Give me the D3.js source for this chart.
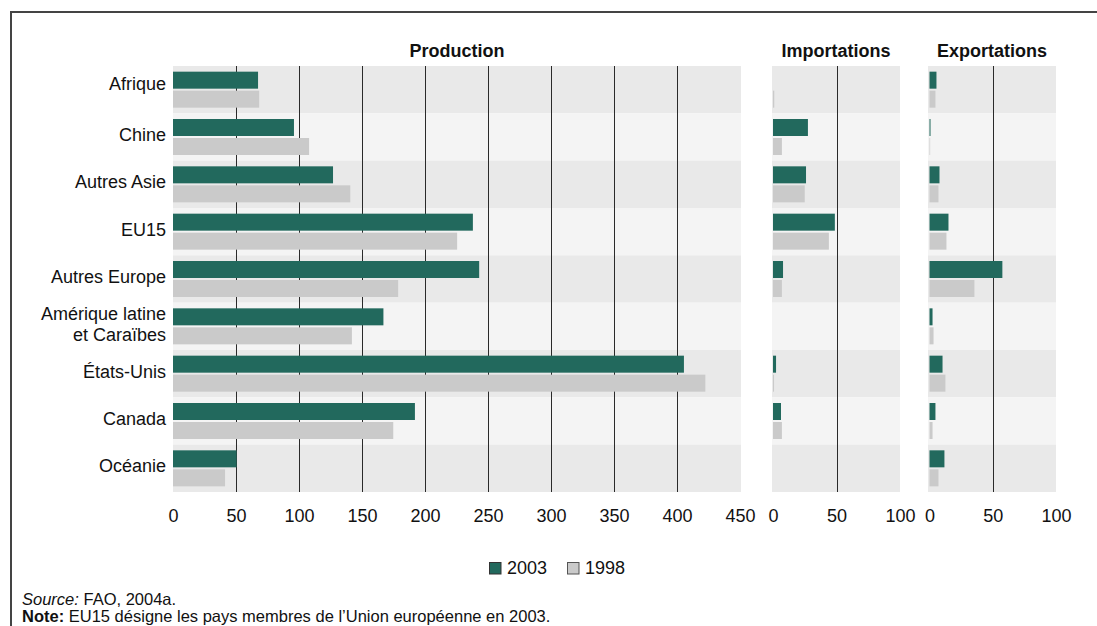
<!DOCTYPE html>
<html>
<head>
<meta charset="utf-8">
<script src="https://cdn.jsdelivr.net/npm/d3@7"></script>
<style>
  html, body { margin: 0; padding: 0; background: #fff; }
  svg { display: block; font-family: "Liberation Sans", Arial, Helvetica, sans-serif; }
</style>
</head>
<body>
<svg id="chart" width="1097" height="626"></svg>
<script>
// ---- Data ----
const categories = ["Afrique", "Chine", "Autres Asie", "EU15", "Autres Europe",
  "Amérique latine\net Caraïbes", "États-Unis", "Canada", "Océanie"];
const seriesNames = ["2003", "1998"];
const prod2003 = [67.5, 96, 127, 238, 243, 167, 405.5, 192, 50.5];
const prod1998 = [68.4, 108, 140.7, 225.5, 178.7, 142, 422.5, 174.8, 41.3];
const imp2003 = [0, 27.5, 26, 48.7, 7.9, 0, 2.4, 6.3, 0];
const imp1998 = [1, 7, 25, 44, 7, 0, 0.8, 7, 0];
const exp2003 = [5.5, 0.8, 7.9, 15, 57.6, 2.4, 10.3, 4.7, 11.8];
const exp1998 = [4.7, 0.5, 7.1, 13.4, 35.5, 3.2, 12.6, 2.4, 7.1];
const prodTicks = [0, 50, 100, 150, 200, 250, 300, 350, 400, 450];
const tradeTicks = [0, 50, 100];
const panelTitles = ["Production", "Importations", "Exportations"];

const colors = { "2003": "#22695d", "1998": "#cacaca" };
const bandColors = ["#e9e9e9", "#f4f4f4"];

const svg = d3.select("#chart");

// frame
svg.append("path")
  .attr("d", "M11,626 V12 H1097")
  .attr("fill", "none").attr("stroke", "#444").attr("stroke-width", 2);

const y = d3.scaleBand().domain(categories).range([66, 492]).padding(0);

const panels = [
  { title: panelTitles[0], domain: [0, 450], range: [173, 740], bg: [173, 741], ticks: prodTicks, grid: prodTicks.filter(t => t > 0 && t < 450), s03: prod2003, s98: prod1998 },
  { title: panelTitles[1], domain: [0, 100], range: [773, 900], bg: [772, 900], ticks: tradeTicks, grid: [50], s03: imp2003, s98: imp1998 },
  { title: panelTitles[2], domain: [0, 100], range: [929.5, 1056], bg: [928, 1056], ticks: tradeTicks, grid: [50], s03: exp2003, s98: exp1998 }
];

panels.forEach(p => {
  const x = d3.scaleLinear().domain(p.domain).range(p.range);
  const g = svg.append("g");
  // bands
  g.selectAll("rect.band").data(categories).enter().append("rect")
    .attr("x", p.bg[0]).attr("width", p.bg[1] - p.bg[0])
    .attr("y", d => y(d)).attr("height", y.bandwidth())
    .attr("fill", (d, i) => bandColors[i % 2]);
  // grid
  g.selectAll("line.grid").data(p.grid).enter().append("line")
    .attr("x1", d => Math.round(x(d)) + 0.5).attr("x2", d => Math.round(x(d)) + 0.5)
    .attr("y1", 66).attr("y2", 492)
    .attr("stroke", "#2a2a2a").attr("stroke-width", 1);
  // bars
  const c = d => y(d) + y.bandwidth() / 2;
  g.selectAll("rect.b03").data(categories).enter().append("rect")
    .attr("x", x(0)).attr("width", (d, i) => x(p.s03[i]) - x(0))
    .attr("y", d => c(d) - 18).attr("height", 17)
    .attr("fill", colors["2003"]);
  g.selectAll("rect.b98").data(categories).enter().append("rect")
    .attr("x", x(0)).attr("width", (d, i) => x(p.s98[i]) - x(0))
    .attr("y", d => c(d) + 1).attr("height", 17)
    .attr("fill", colors["1998"]);
  // title
  g.append("text")
    .attr("x", (p.bg[0] + p.bg[1]) / 2).attr("y", 57)
    .attr("text-anchor", "middle").attr("font-weight", "bold")
    .attr("font-size", 18).attr("fill", "#111").text(p.title);
  // axis
  const axis = d3.axisBottom(x).tickValues(p.ticks).tickSize(0).tickPadding(0);
  const ag = svg.append("g").attr("transform", "translate(0,508)").call(axis);
  ag.select(".domain").remove();
  ag.selectAll("text").attr("font-size", 18).attr("fill", "#111")
    .attr("font-family", "'Liberation Sans', Arial, sans-serif")
    .attr("dy", "0.78em");
});

// category labels
const lab = svg.append("g");
categories.forEach((cat, ci) => {
  const lines = cat.split("\n");
  const cy = y(cat) + y.bandwidth() / 2 - (ci === 0 ? 6 : 2.5);
  const lh = 20.7;
  const t = lab.append("text").attr("text-anchor", "end").attr("font-size", 18).attr("fill", "#111");
  lines.forEach((ln, i) => {
    t.append("tspan").attr("x", 166)
      .attr("y", cy + (i - (lines.length - 1) / 2) * lh)
      .attr("dy", "0.36em").text(ln);
  });
});

// legend
const leg = svg.append("g");
const legItems = [{ k: seriesNames[0], x: 489 }, { k: seriesNames[1], x: 567 }];
legItems.forEach(it => {
  leg.append("rect").attr("x", it.x + 0.5).attr("y", 562.5).attr("width", 11.5).attr("height", 11.5)
    .attr("fill", colors[it.k]).attr("stroke", it.k === "2003" ? "#333" : "#555").attr("stroke-width", 1);
  leg.append("text").attr("x", it.x + 18).attr("y", 574).attr("font-size", 18).attr("fill", "#111").text(it.k);
});

// footnotes
const f1 = svg.append("text").attr("x", 22).attr("y", 605).attr("font-size", 16.5).attr("fill", "#111");
f1.append("tspan").attr("font-style", "italic").text("Source:");
f1.append("tspan").text(" FAO, 2004a.");
const f2 = svg.append("text").attr("x", 22).attr("y", 622).attr("font-size", 16.5).attr("fill", "#111");
f2.append("tspan").attr("font-weight", "bold").text("Note:");
f2.append("tspan").text(" EU15 désigne les pays membres de l’Union européenne en 2003.");
</script>
</body>
</html>
